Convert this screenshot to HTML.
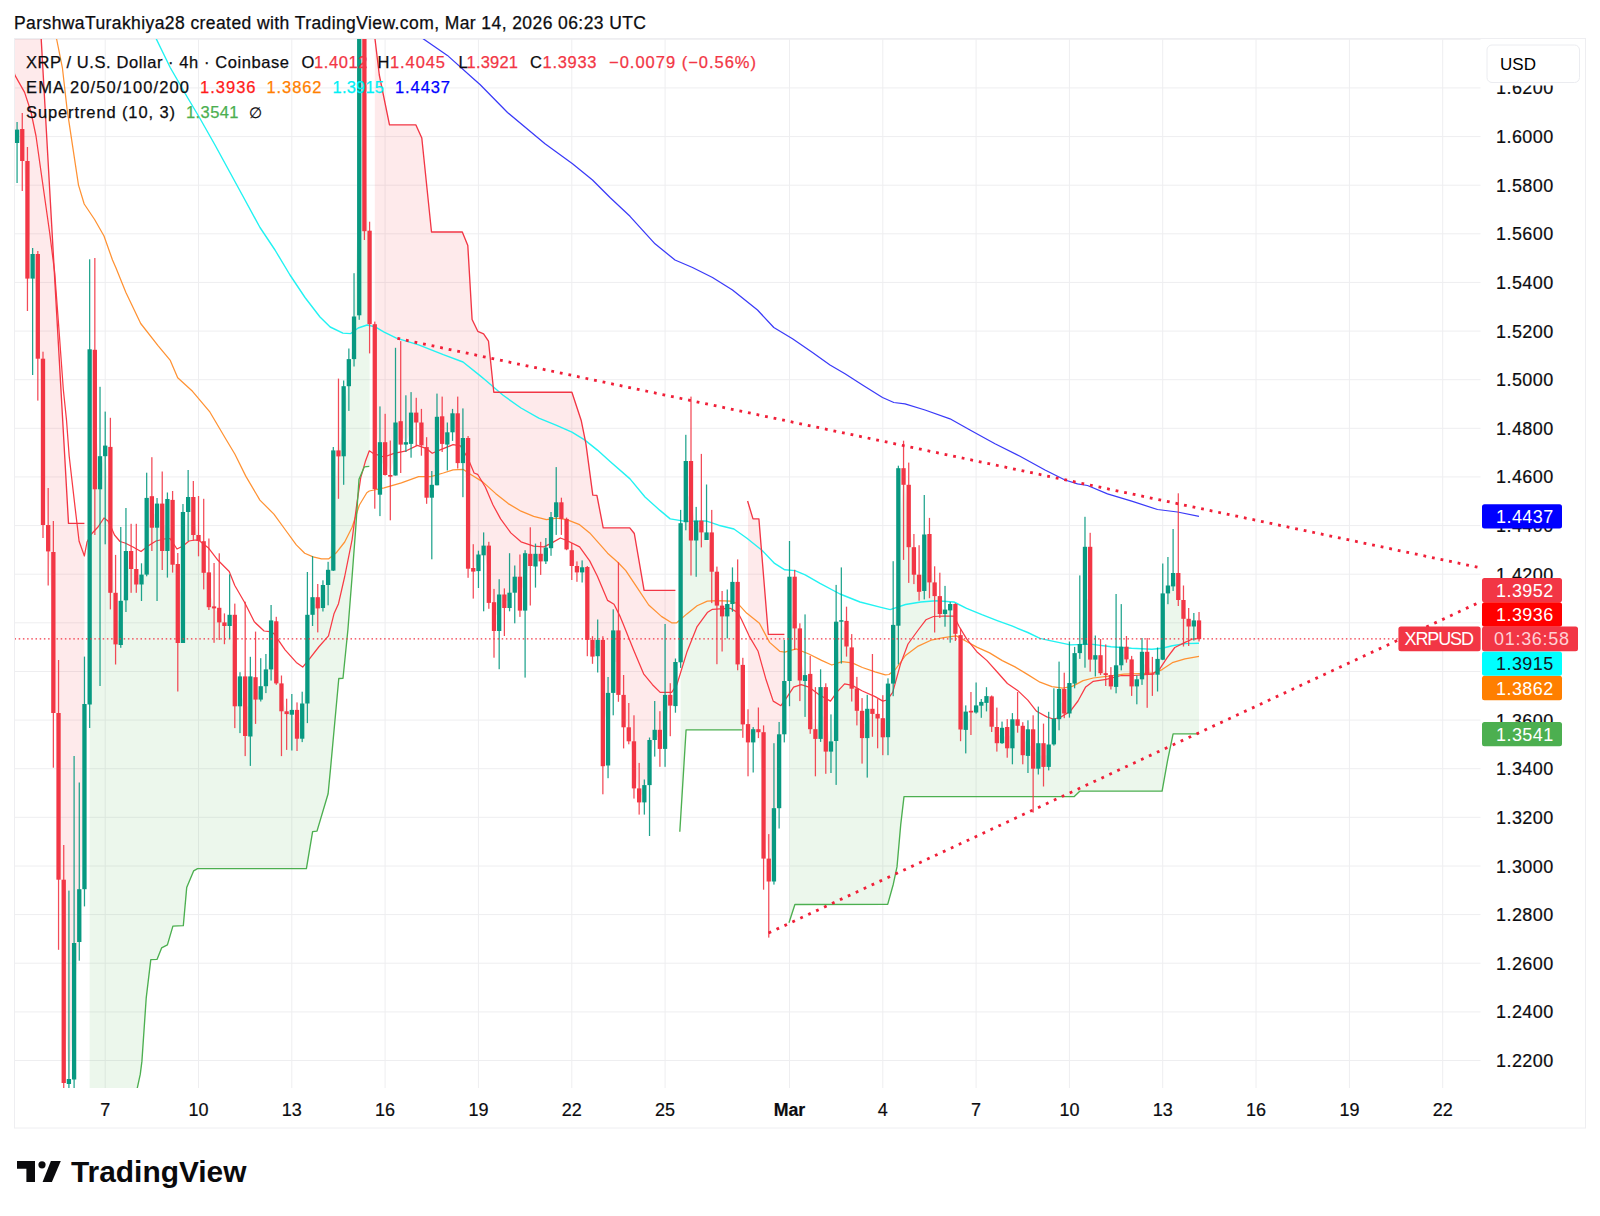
<!DOCTYPE html><html><head><meta charset="utf-8"><title>XRPUSD chart</title>
<style>html,body{margin:0;padding:0;background:#fff}body{width:1600px;height:1216px;overflow:hidden}svg{display:block}text{font-family:"Liberation Sans",sans-serif}</style></head><body>
<svg width="1600" height="1216" viewBox="0 0 1600 1216">
<defs><clipPath id="pane"><rect x="14.5" y="39" width="1466" height="1049"/></clipPath></defs>
<rect width="1600" height="1216" fill="#fff"/>
<g stroke="#eeeef0" stroke-width="1" fill="none">
<line x1="14.5" y1="39.3" x2="1480.5" y2="39.3"/>
<line x1="14.5" y1="87.9" x2="1480.5" y2="87.9"/>
<line x1="14.5" y1="136.6" x2="1480.5" y2="136.6"/>
<line x1="14.5" y1="185.2" x2="1480.5" y2="185.2"/>
<line x1="14.5" y1="233.8" x2="1480.5" y2="233.8"/>
<line x1="14.5" y1="282.4" x2="1480.5" y2="282.4"/>
<line x1="14.5" y1="331.1" x2="1480.5" y2="331.1"/>
<line x1="14.5" y1="379.7" x2="1480.5" y2="379.7"/>
<line x1="14.5" y1="428.3" x2="1480.5" y2="428.3"/>
<line x1="14.5" y1="476.9" x2="1480.5" y2="476.9"/>
<line x1="14.5" y1="525.6" x2="1480.5" y2="525.6"/>
<line x1="14.5" y1="574.2" x2="1480.5" y2="574.2"/>
<line x1="14.5" y1="622.8" x2="1480.5" y2="622.8"/>
<line x1="14.5" y1="671.5" x2="1480.5" y2="671.5"/>
<line x1="14.5" y1="720.1" x2="1480.5" y2="720.1"/>
<line x1="14.5" y1="768.7" x2="1480.5" y2="768.7"/>
<line x1="14.5" y1="817.3" x2="1480.5" y2="817.3"/>
<line x1="14.5" y1="866.0" x2="1480.5" y2="866.0"/>
<line x1="14.5" y1="914.6" x2="1480.5" y2="914.6"/>
<line x1="14.5" y1="963.2" x2="1480.5" y2="963.2"/>
<line x1="14.5" y1="1011.9" x2="1480.5" y2="1011.9"/>
<line x1="14.5" y1="1060.5" x2="1480.5" y2="1060.5"/>
<line x1="105.2" y1="39" x2="105.2" y2="1088"/>
<line x1="198.5" y1="39" x2="198.5" y2="1088"/>
<line x1="291.8" y1="39" x2="291.8" y2="1088"/>
<line x1="385.1" y1="39" x2="385.1" y2="1088"/>
<line x1="478.4" y1="39" x2="478.4" y2="1088"/>
<line x1="571.8" y1="39" x2="571.8" y2="1088"/>
<line x1="665.1" y1="39" x2="665.1" y2="1088"/>
<line x1="789.5" y1="39" x2="789.5" y2="1088"/>
<line x1="882.8" y1="39" x2="882.8" y2="1088"/>
<line x1="976.1" y1="39" x2="976.1" y2="1088"/>
<line x1="1069.4" y1="39" x2="1069.4" y2="1088"/>
<line x1="1162.7" y1="39" x2="1162.7" y2="1088"/>
<line x1="1256.0" y1="39" x2="1256.0" y2="1088"/>
<line x1="1349.4" y1="39" x2="1349.4" y2="1088"/>
<line x1="1442.7" y1="39" x2="1442.7" y2="1088"/>
</g>
<g clip-path="url(#pane)">
<polygon fill="rgba(242,54,69,0.105)" points="17.1,-393.8 41.2,39.0 68.5,523.4 84.4,523.4 84.5,523.4 84.5,796.6 79.3,915.6 74.1,1011.2 68.9,1081.5 63.7,981.4 58.5,796.4 53.4,632.5 48.2,538.2 43.0,441.9 37.8,306.4 32.6,266.3 27.4,219.8 22.3,145.0 17.1,136.3"/>
<polygon fill="rgba(242,54,69,0.105)" points="0.0,-300 0.0,136.3 17.1,136.3 17.1,-300"/>
<polygon fill="rgba(76,175,80,0.105)" points="89.6,1698.2 130.4,1200.0 137.3,1088.0 140.3,1074.2 141.9,1061.4 146.2,998.2 150.8,959.7 157.1,959.3 161.6,947.9 167.4,944.9 172.9,926.1 183.3,925.7 186.7,887.6 193.6,870.9 197.6,868.6 306.4,868.6 312.6,831.6 317.0,831.1 328.1,793.8 330.6,767.9 338.8,678.5 343.0,678.3 347.9,629.8 352.1,576.5 355.8,527.2 359.0,479.2 364.4,466.8 369.3,466.3 369.6,466.3 369.6,277.4 364.4,125.6 359.2,167.7 354.0,337.8 348.8,372.6 343.7,421.2 338.5,453.4 333.3,510.5 328.1,577.4 322.9,596.5 317.7,602.8 312.6,606.0 307.4,659.1 302.2,721.1 297.0,724.3 291.8,712.3 286.6,712.7 281.5,697.3 276.3,652.3 271.1,644.9 265.9,677.8 260.7,692.9 255.5,688.4 250.4,706.5 245.2,706.2 240.0,691.3 234.8,660.5 229.6,620.4 224.4,624.2 219.2,615.1 214.1,607.4 208.9,589.8 203.7,557.0 198.5,538.0 193.3,516.0 188.1,504.5 183.0,577.5 177.8,603.5 172.6,532.3 167.4,525.0 162.2,527.3 157.0,515.7 151.9,512.0 146.7,536.2 141.5,579.5 136.3,576.8 131.1,560.0 125.9,575.6 120.8,622.9 115.6,618.6 110.4,519.8 105.2,450.9 100.0,472.8 94.8,419.6 89.6,526.9"/>
<polygon fill="rgba(242,54,69,0.105)" points="374.8,31.5 375.0,39.0 379.3,75.0 389.5,124.8 415.8,124.8 421.8,138.0 431.5,232.0 462.3,232.0 467.8,245.5 472.1,319.5 477.8,331.3 483.6,333.9 488.5,341.2 493.8,392.2 571.9,392.2 581.3,420.8 585.9,443.7 592.8,495.2 596.9,495.4 603.2,527.8 629.8,527.8 634.3,533.5 644.1,590.4 675.4,590.4 675.4,590.4 675.4,684.0 670.3,700.2 665.1,721.9 659.9,739.3 654.7,734.9 649.5,762.5 644.3,793.8 639.2,795.4 634.0,764.8 628.8,734.3 623.6,711.1 618.4,662.6 613.2,661.6 608.0,729.2 602.9,703.0 597.7,648.0 592.5,648.2 587.3,603.5 582.1,569.8 576.9,569.2 571.8,558.1 566.6,534.1 561.4,510.6 556.2,509.7 551.0,532.7 545.8,554.5 540.7,557.6 535.5,560.1 530.3,559.9 525.1,581.9 519.9,593.7 514.7,584.7 509.6,600.4 504.4,601.2 499.2,612.8 494.0,616.6 488.8,574.2 483.6,550.5 478.4,562.8 473.3,569.8 468.1,503.4 462.9,450.6 457.7,438.2 452.5,422.8 447.3,438.5 442.2,430.1 437.0,451.1 431.8,491.2 426.6,472.4 421.4,433.9 416.2,417.6 411.1,428.2 405.9,443.4 400.7,432.9 395.5,449.0 390.3,475.9 385.1,458.6 380.0,468.4 374.8,406.6"/>
<polygon fill="rgba(76,175,80,0.105)" points="680.6,818.4 686.1,729.8 742.0,729.8 742.8,729.8 742.8,694.6 737.6,623.1 732.5,593.0 727.3,610.2 722.1,611.0 716.9,588.7 711.7,552.0 706.5,536.2 701.4,526.5 696.2,530.5 691.0,500.8 685.8,491.6 680.6,592.8"/>
<polygon fill="rgba(242,54,69,0.105)" points="748.0,502.4 753.0,518.9 758.9,518.9 768.3,634.3 784.3,634.3 784.3,707.6 779.1,771.2 773.9,844.9 768.8,870.0 763.6,795.4 758.4,730.7 753.2,735.8 748.0,733.2"/>
<polygon fill="rgba(76,175,80,0.105)" points="789.5,921.3 794.9,904.5 887.7,904.4 893.3,884.2 897.0,866.9 900.7,824.9 904.0,796.6 1074.3,796.6 1080.0,791.1 1162.1,791.1 1167.7,759.8 1173.1,733.8 1199.0,733.8 1199.0,733.8 1199.0,629.7 1193.8,623.5 1188.7,622.6 1183.5,609.4 1178.3,586.5 1173.1,579.7 1167.9,589.5 1162.7,626.5 1157.6,666.8 1152.4,674.2 1147.2,663.0 1142.0,665.5 1136.8,682.8 1131.6,672.9 1126.4,653.0 1121.3,656.0 1116.1,676.1 1110.9,680.7 1105.7,674.1 1100.5,664.2 1095.3,657.4 1090.2,603.2 1085.0,595.8 1079.8,648.5 1074.6,668.4 1069.4,698.2 1064.2,701.2 1059.1,704.1 1053.9,731.5 1048.7,755.7 1043.5,755.0 1038.3,756.0 1033.1,749.0 1028.0,742.6 1022.8,740.5 1017.6,722.5 1012.4,733.8 1007.2,737.6 1002.0,735.5 996.8,735.1 991.7,711.5 986.5,699.5 981.3,703.8 976.1,709.0 970.9,711.6 965.7,720.8 960.6,682.3 955.4,618.9 950.2,607.2 945.0,611.8 939.8,605.0 934.6,589.2 929.5,558.2 924.3,562.8 919.1,583.2 913.9,561.0 908.7,516.0 903.5,476.5 898.4,547.0 893.2,654.2 888.0,710.4 882.8,727.8 877.6,716.2 872.4,711.3 867.2,723.5 862.1,724.5 856.9,699.6 851.7,668.0 846.5,633.7 841.3,621.0 836.1,681.4 831.0,746.5 825.8,719.4 820.6,713.0 815.4,734.0 810.2,701.5 805.0,678.0 799.9,654.5 794.7,602.5 789.5,628.9"/>
<polyline fill="none" stroke="#3a3af8" stroke-width="1.25" stroke-linejoin="round"  points="415.0,33.0 423.5,39.0 447.4,55.4 472.9,78.3 480.0,84.5 507.5,112.5 545.0,143.8 572.5,163.8 592.5,180.0 610.0,197.5 630.0,216.3 655.0,243.8 675.0,260.0 692.5,267.5 712.5,277.5 732.5,290.0 757.5,310.0 773.8,327.5 792.5,338.8 812.5,352.5 830.0,365.0 845.0,373.8 862.5,385.0 882.5,397.5 893.8,402.5 905.0,403.8 925.0,410.0 950.0,418.8 970.0,430.0 995.0,443.8 1020.0,456.3 1045.0,470.0 1065.0,480.0 1077.5,483.8 1087.5,485.5 1107.5,493.8 1132.5,501.3 1157.5,509.5 1177.5,512.0 1199.0,516.3"/>
<polyline fill="none" stroke="#22f2f2" stroke-width="1.4" stroke-linejoin="round"  points="150.0,25.0 156.3,39.0 170.2,67.5 187.5,97.5 200.0,118.5 215.0,145.0 230.0,172.5 245.0,200.0 260.0,227.5 275.0,250.0 290.0,275.0 305.0,297.5 320.0,317.0 330.2,327.0 342.9,333.1 350.6,333.6 358.2,328.0 367.1,325.0 374.8,326.7 383.7,331.8 396.4,338.2 418.6,344.8 443.3,354.7 463.0,362.0 480.0,375.6 485.3,380.0 503.1,395.3 521.0,408.0 538.8,418.2 556.6,425.4 571.9,432.2 584.6,439.9 597.4,450.1 610.1,461.5 630.0,478.9 645.0,497.0 660.0,510.4 670.2,518.9 685.5,521.4 705.9,520.9 718.6,525.2 733.9,529.0 746.6,538.0 761.9,550.2 774.6,563.4 784.8,569.8 795.0,570.6 805.2,574.9 820.0,583.3 840.0,594.0 860.0,602.0 880.0,607.1 890.2,609.6 905.5,604.5 920.8,602.0 936.1,600.7 953.9,602.0 966.6,608.3 981.9,614.7 997.2,620.6 1012.5,626.2 1027.8,632.5 1040.0,638.4 1050.0,640.6 1070.4,644.9 1090.8,644.1 1111.1,646.7 1131.5,648.2 1151.9,649.2 1162.1,648.2 1172.3,645.7 1185.0,643.6 1199.0,643.2"/>
<polyline fill="none" stroke="#ff9233" stroke-width="1.25" stroke-linejoin="round"  points="14.0,-60.0 56.7,39.5 62.4,67.8 67.1,109.4 72.8,147.3 78.5,185.1 84.2,204.0 94.6,219.5 104.0,236.0 112.5,260.0 116.0,268.0 125.9,292.6 140.7,323.5 158.0,345.6 170.3,360.4 177.7,377.7 192.5,391.3 210.0,412.2 226.4,440.0 234.8,454.0 245.9,476.4 259.9,500.1 273.9,514.1 285.1,529.5 296.3,544.9 304.7,553.3 313.1,556.9 321.5,558.9 328.5,558.9 336.0,553.1 344.7,542.0 352.1,527.2 359.4,505.0 366.8,492.7 369.3,491.0 384.1,487.8 401.4,482.9 418.6,476.7 430.9,476.7 443.3,473.0 453.1,469.8 463.0,469.3 470.4,474.2 482.7,481.9 495.5,493.4 508.2,503.6 521.0,511.2 533.7,516.3 546.4,519.6 556.6,518.1 566.8,519.6 579.6,524.7 589.7,532.9 599.9,544.3 607.6,553.2 617.8,562.2 625.8,570.6 636.0,585.9 648.7,605.0 661.4,616.4 671.6,622.8 676.7,622.8 686.9,613.9 697.1,605.7 707.3,601.1 717.5,600.6 730.2,601.1 737.9,603.7 746.6,613.1 759.4,623.3 769.6,642.4 779.7,651.3 784.8,652.1 796.1,648.9 808.9,654.0 821.6,660.4 831.8,665.0 842.0,661.7 852.2,662.9 862.4,667.5 875.1,671.8 885.3,674.8 889.0,674.5 895.3,669.5 905.5,655.5 918.2,646.1 931.0,640.2 943.7,637.6 956.4,635.9 966.6,641.5 976.8,647.1 989.6,652.9 1002.3,660.6 1015.0,666.9 1027.8,674.6 1040.0,682.2 1051.9,686.6 1062.7,688.2 1072.3,686.4 1083.1,680.6 1093.3,678.0 1108.6,676.2 1123.9,674.2 1139.2,673.7 1154.5,672.9 1162.1,669.6 1172.3,662.7 1185.0,658.9 1199.0,656.4"/>
<polyline fill="none" stroke="#f83a44" stroke-width="1.25" stroke-linejoin="round"  points="14.0,72.0 15.0,75.4 24.6,92.4 31.0,112.0 36.0,136.0 42.2,180.0 49.7,233.0 54.7,272.7 59.0,330.0 63.3,389.2 66.5,420.0 69.2,456.3 75.1,507.6 79.1,541.2 84.4,556.0 87.0,542.0 91.0,534.5 98.0,527.0 104.0,518.0 108.0,521.0 111.0,527.0 114.5,535.0 120.0,541.5 125.0,543.0 133.0,547.0 141.0,551.5 148.0,546.0 156.0,541.0 164.0,539.0 170.0,538.5 177.0,549.0 183.0,546.0 189.0,541.0 195.0,540.0 198.4,540.1 208.2,547.7 218.0,560.3 229.2,571.5 234.8,585.5 244.5,602.2 254.3,621.8 264.1,631.0 269.7,631.6 273.9,633.6 285.1,649.8 296.3,662.4 302.7,667.1 308.9,659.6 318.7,647.0 328.5,635.8 334.1,613.4 338.5,603.7 344.7,576.5 352.1,539.6 357.0,502.6 360.7,477.9 365.6,460.7 369.3,450.8 373.0,453.3 384.1,457.0 394.0,453.3 406.3,450.8 417.4,445.4 426.0,448.3 432.2,453.3 440.8,449.6 453.1,444.6 460.5,445.9 467.9,458.2 474.1,473.0 477.6,474.3 485.3,487.0 492.9,504.8 500.6,518.9 510.8,532.9 521.0,541.8 533.7,546.1 543.9,546.9 551.5,543.1 560.4,538.0 566.8,540.5 579.6,546.9 589.7,560.9 597.4,576.2 607.6,600.4 614.0,604.2 620.3,616.9 623.2,624.1 633.4,649.6 643.6,673.8 652.5,684.7 660.2,692.4 671.6,692.4 676.7,685.2 686.9,652.1 697.1,626.6 707.3,612.6 712.4,609.3 720.0,608.8 730.2,608.3 737.9,612.6 741.5,619.5 749.2,636.1 758.1,651.3 765.6,678.2 773.2,701.1 780.9,705.7 786.0,698.6 793.6,687.1 801.2,684.6 808.9,687.1 819.1,694.8 830.5,701.1 836.9,692.2 844.6,683.8 852.2,685.4 862.4,691.0 875.1,696.6 882.8,701.1 887.0,700.0 892.7,692.4 900.4,664.4 908.0,644.0 918.2,630.0 925.9,619.8 933.5,616.5 943.7,616.0 953.9,616.0 959.0,626.2 966.6,638.9 976.8,651.7 987.0,660.6 997.2,672.0 1007.4,683.5 1017.6,690.4 1027.8,700.1 1036.6,711.3 1046.8,716.9 1053.2,719.0 1060.2,717.5 1070.4,711.1 1078.0,701.0 1085.7,686.9 1093.3,681.3 1106.1,679.3 1121.3,675.5 1134.1,675.5 1151.9,674.2 1159.6,669.1 1167.2,657.6 1174.8,647.5 1185.0,642.4 1192.7,639.0 1199.0,638.6"/>
<polyline fill="none" stroke="#f23645" stroke-width="1.35" stroke-linejoin="round"  points="14.0,-440.0 41.2,39.0 68.5,523.4 84.4,523.4"/>
<polyline fill="none" stroke="#f23645" stroke-width="1.35" stroke-linejoin="round"  points="374.1,10.0 375.0,39.0 379.3,75.0 389.5,124.8 415.8,124.8 421.8,138.0 431.5,232.0 462.3,232.0 467.8,245.5 472.1,319.5 477.8,331.3 483.6,333.9 488.5,341.2 493.8,392.2 571.9,392.2 581.3,420.8 585.9,443.7 592.8,495.2 596.9,495.4 603.2,527.8 629.8,527.8 634.3,533.5 644.1,590.4 675.4,590.4"/>
<polyline fill="none" stroke="#f23645" stroke-width="1.35" stroke-linejoin="round"  points="747.6,501.0 753.0,518.9 758.9,518.9 768.3,634.3 784.4,634.3"/>
<polyline fill="none" stroke="#4caf50" stroke-width="1.35" stroke-linejoin="round"  points="89.5,1700.0 130.4,1200.0 137.3,1088.0 140.3,1074.2 141.9,1061.4 146.2,998.2 150.8,959.7 157.1,959.3 161.6,947.9 167.4,944.9 172.9,926.1 183.3,925.7 186.7,887.6 193.6,870.9 197.6,868.6 306.4,868.6 312.6,831.6 317.0,831.1 328.1,793.8 330.6,767.9 338.8,678.5 343.0,678.3 347.9,629.8 352.1,576.5 355.8,527.2 359.0,479.2 364.4,466.8 369.3,466.3"/>
<polyline fill="none" stroke="#4caf50" stroke-width="1.35" stroke-linejoin="round"  points="679.8,831.7 686.1,729.8 742.0,729.8"/>
<polyline fill="none" stroke="#4caf50" stroke-width="1.35" stroke-linejoin="round"  points="789.0,922.8 794.9,904.5 887.7,904.4 893.3,884.2 897.0,866.9 900.7,824.9 904.0,796.6 1074.3,796.6 1080.0,791.1 1162.1,791.1 1167.7,759.8 1173.1,733.8 1199.0,733.8"/>
<g shape-rendering="auto">
<rect x="16.45" y="122.0" width="1.25" height="61.0" fill="#089981" opacity="0.9"/>
<rect x="14.92" y="129.6" width="4.3" height="13.4" fill="#089981"/>
<rect x="21.64" y="113.0" width="1.25" height="78.0" fill="#f23645" opacity="0.9"/>
<rect x="20.11" y="129.0" width="4.3" height="32.0" fill="#f23645"/>
<rect x="26.82" y="147.0" width="1.25" height="164.0" fill="#f23645" opacity="0.9"/>
<rect x="25.29" y="161.0" width="4.3" height="117.6" fill="#f23645"/>
<rect x="32.00" y="248.0" width="1.25" height="127.0" fill="#089981" opacity="0.9"/>
<rect x="30.47" y="254.0" width="4.3" height="24.6" fill="#089981"/>
<rect x="37.19" y="251.0" width="1.25" height="149.6" fill="#f23645" opacity="0.9"/>
<rect x="35.66" y="254.0" width="4.3" height="104.7" fill="#f23645"/>
<rect x="42.37" y="351.7" width="1.25" height="186.3" fill="#f23645" opacity="0.9"/>
<rect x="40.84" y="358.7" width="4.3" height="166.3" fill="#f23645"/>
<rect x="47.56" y="488.0" width="1.25" height="97.5" fill="#f23645" opacity="0.9"/>
<rect x="46.03" y="525.0" width="4.3" height="26.4" fill="#f23645"/>
<rect x="52.74" y="521.0" width="1.25" height="246.7" fill="#f23645" opacity="0.9"/>
<rect x="51.21" y="552.0" width="4.3" height="161.0" fill="#f23645"/>
<rect x="57.92" y="660.0" width="1.25" height="289.8" fill="#f23645" opacity="0.9"/>
<rect x="56.39" y="713.0" width="4.3" height="166.7" fill="#f23645"/>
<rect x="63.11" y="845.0" width="1.25" height="250.0" fill="#f23645" opacity="0.9"/>
<rect x="61.58" y="879.7" width="4.3" height="203.3" fill="#f23645"/>
<rect x="68.29" y="890.6" width="1.25" height="204.4" fill="#089981" opacity="0.9"/>
<rect x="66.76" y="1079.0" width="4.3" height="5.0" fill="#089981"/>
<rect x="73.48" y="756.0" width="1.25" height="339.0" fill="#089981" opacity="0.9"/>
<rect x="71.95" y="943.0" width="4.3" height="136.5" fill="#089981"/>
<rect x="78.66" y="782.5" width="1.25" height="178.2" fill="#089981" opacity="0.9"/>
<rect x="77.13" y="889.2" width="4.3" height="52.8" fill="#089981"/>
<rect x="83.84" y="656.6" width="1.25" height="249.8" fill="#089981" opacity="0.9"/>
<rect x="82.31" y="704.0" width="4.3" height="185.2" fill="#089981"/>
<rect x="89.03" y="259.3" width="1.25" height="468.7" fill="#089981" opacity="0.9"/>
<rect x="87.50" y="349.3" width="4.3" height="355.2" fill="#089981"/>
<rect x="94.21" y="258.0" width="1.25" height="277.0" fill="#f23645" opacity="0.9"/>
<rect x="92.68" y="349.8" width="4.3" height="139.5" fill="#f23645"/>
<rect x="99.40" y="386.8" width="1.25" height="299.2" fill="#089981" opacity="0.9"/>
<rect x="97.87" y="456.2" width="4.3" height="33.1" fill="#089981"/>
<rect x="104.58" y="411.6" width="1.25" height="132.7" fill="#089981" opacity="0.9"/>
<rect x="103.05" y="445.6" width="4.3" height="10.6" fill="#089981"/>
<rect x="109.76" y="417.8" width="1.25" height="191.6" fill="#f23645" opacity="0.9"/>
<rect x="108.23" y="446.9" width="4.3" height="145.9" fill="#f23645"/>
<rect x="114.95" y="554.9" width="1.25" height="109.6" fill="#f23645" opacity="0.9"/>
<rect x="113.42" y="592.8" width="4.3" height="51.6" fill="#f23645"/>
<rect x="120.13" y="527.0" width="1.25" height="120.8" fill="#089981" opacity="0.9"/>
<rect x="118.60" y="600.8" width="4.3" height="44.2" fill="#089981"/>
<rect x="125.32" y="508.0" width="1.25" height="104.0" fill="#089981" opacity="0.9"/>
<rect x="123.79" y="551.0" width="4.3" height="49.3" fill="#089981"/>
<rect x="130.50" y="523.8" width="1.25" height="69.0" fill="#f23645" opacity="0.9"/>
<rect x="128.97" y="551.0" width="4.3" height="18.0" fill="#f23645"/>
<rect x="135.68" y="523.8" width="1.25" height="69.0" fill="#f23645" opacity="0.9"/>
<rect x="134.15" y="569.0" width="4.3" height="15.5" fill="#f23645"/>
<rect x="140.87" y="563.3" width="1.25" height="37.7" fill="#089981" opacity="0.9"/>
<rect x="139.34" y="574.6" width="4.3" height="9.9" fill="#089981"/>
<rect x="146.05" y="472.7" width="1.25" height="103.6" fill="#089981" opacity="0.9"/>
<rect x="144.52" y="497.9" width="4.3" height="76.7" fill="#089981"/>
<rect x="151.24" y="457.2" width="1.25" height="93.8" fill="#f23645" opacity="0.9"/>
<rect x="149.71" y="496.2" width="4.3" height="31.5" fill="#f23645"/>
<rect x="156.42" y="498.0" width="1.25" height="103.0" fill="#089981" opacity="0.9"/>
<rect x="154.89" y="503.6" width="4.3" height="24.1" fill="#089981"/>
<rect x="161.60" y="471.5" width="1.25" height="98.5" fill="#f23645" opacity="0.9"/>
<rect x="160.07" y="503.6" width="4.3" height="47.4" fill="#f23645"/>
<rect x="166.79" y="492.5" width="1.25" height="85.1" fill="#089981" opacity="0.9"/>
<rect x="165.26" y="499.0" width="4.3" height="52.0" fill="#089981"/>
<rect x="171.97" y="491.0" width="1.25" height="81.6" fill="#f23645" opacity="0.9"/>
<rect x="170.44" y="499.9" width="4.3" height="64.8" fill="#f23645"/>
<rect x="177.16" y="553.0" width="1.25" height="138.5" fill="#f23645" opacity="0.9"/>
<rect x="175.63" y="564.0" width="4.3" height="79.0" fill="#f23645"/>
<rect x="182.34" y="504.0" width="1.25" height="139.0" fill="#089981" opacity="0.9"/>
<rect x="180.81" y="512.0" width="4.3" height="131.0" fill="#089981"/>
<rect x="187.52" y="470.0" width="1.25" height="71.0" fill="#089981" opacity="0.9"/>
<rect x="185.99" y="497.0" width="4.3" height="15.0" fill="#089981"/>
<rect x="192.71" y="481.0" width="1.25" height="59.6" fill="#f23645" opacity="0.9"/>
<rect x="191.18" y="497.0" width="4.3" height="38.0" fill="#f23645"/>
<rect x="197.89" y="496.0" width="1.25" height="60.3" fill="#f23645" opacity="0.9"/>
<rect x="196.36" y="535.0" width="4.3" height="6.0" fill="#f23645"/>
<rect x="203.08" y="498.8" width="1.25" height="90.6" fill="#f23645" opacity="0.9"/>
<rect x="201.55" y="541.2" width="4.3" height="31.6" fill="#f23645"/>
<rect x="208.26" y="538.5" width="1.25" height="71.5" fill="#f23645" opacity="0.9"/>
<rect x="206.73" y="572.4" width="4.3" height="34.8" fill="#f23645"/>
<rect x="213.44" y="563.0" width="1.25" height="79.8" fill="#f23645" opacity="0.9"/>
<rect x="211.91" y="606.4" width="4.3" height="2.0" fill="#f23645"/>
<rect x="218.63" y="553.3" width="1.25" height="86.7" fill="#f23645" opacity="0.9"/>
<rect x="217.10" y="607.8" width="4.3" height="14.6" fill="#f23645"/>
<rect x="223.81" y="613.4" width="1.25" height="30.8" fill="#f23645" opacity="0.9"/>
<rect x="222.28" y="622.4" width="4.3" height="3.6" fill="#f23645"/>
<rect x="229.00" y="574.3" width="1.25" height="64.9" fill="#089981" opacity="0.9"/>
<rect x="227.47" y="614.8" width="4.3" height="11.2" fill="#089981"/>
<rect x="234.18" y="603.6" width="1.25" height="124.5" fill="#f23645" opacity="0.9"/>
<rect x="232.65" y="614.8" width="4.3" height="91.5" fill="#f23645"/>
<rect x="239.36" y="672.2" width="1.25" height="60.9" fill="#089981" opacity="0.9"/>
<rect x="237.83" y="676.4" width="4.3" height="29.9" fill="#089981"/>
<rect x="244.55" y="601.7" width="1.25" height="154.4" fill="#f23645" opacity="0.9"/>
<rect x="243.02" y="676.4" width="4.3" height="59.6" fill="#f23645"/>
<rect x="249.73" y="656.8" width="1.25" height="109.1" fill="#089981" opacity="0.9"/>
<rect x="248.20" y="676.4" width="4.3" height="60.1" fill="#089981"/>
<rect x="254.92" y="631.6" width="1.25" height="92.3" fill="#f23645" opacity="0.9"/>
<rect x="253.39" y="677.2" width="4.3" height="22.4" fill="#f23645"/>
<rect x="260.10" y="658.2" width="1.25" height="43.3" fill="#089981" opacity="0.9"/>
<rect x="258.57" y="686.2" width="4.3" height="13.4" fill="#089981"/>
<rect x="265.28" y="654.0" width="1.25" height="39.1" fill="#089981" opacity="0.9"/>
<rect x="263.75" y="669.4" width="4.3" height="16.8" fill="#089981"/>
<rect x="270.47" y="605.0" width="1.25" height="75.6" fill="#089981" opacity="0.9"/>
<rect x="268.94" y="620.4" width="4.3" height="49.0" fill="#089981"/>
<rect x="275.65" y="616.8" width="1.25" height="68.0" fill="#f23645" opacity="0.9"/>
<rect x="274.12" y="621.3" width="4.3" height="62.1" fill="#f23645"/>
<rect x="280.84" y="675.5" width="1.25" height="80.6" fill="#f23645" opacity="0.9"/>
<rect x="279.31" y="683.4" width="4.3" height="27.9" fill="#f23645"/>
<rect x="286.02" y="698.7" width="1.25" height="51.2" fill="#f23645" opacity="0.9"/>
<rect x="284.49" y="711.3" width="4.3" height="2.8" fill="#f23645"/>
<rect x="291.20" y="694.0" width="1.25" height="56.5" fill="#089981" opacity="0.9"/>
<rect x="289.67" y="709.9" width="4.3" height="4.8" fill="#089981"/>
<rect x="296.39" y="702.4" width="1.25" height="48.6" fill="#f23645" opacity="0.9"/>
<rect x="294.86" y="709.9" width="4.3" height="28.8" fill="#f23645"/>
<rect x="301.57" y="691.7" width="1.25" height="50.4" fill="#089981" opacity="0.9"/>
<rect x="300.04" y="703.5" width="4.3" height="35.2" fill="#089981"/>
<rect x="306.76" y="572.0" width="1.25" height="151.1" fill="#089981" opacity="0.9"/>
<rect x="305.23" y="614.8" width="4.3" height="88.7" fill="#089981"/>
<rect x="311.94" y="556.1" width="1.25" height="69.9" fill="#089981" opacity="0.9"/>
<rect x="310.41" y="597.2" width="4.3" height="17.6" fill="#089981"/>
<rect x="317.12" y="584.0" width="1.25" height="48.4" fill="#f23645" opacity="0.9"/>
<rect x="315.59" y="597.2" width="4.3" height="11.2" fill="#f23645"/>
<rect x="322.31" y="580.3" width="1.25" height="31.2" fill="#089981" opacity="0.9"/>
<rect x="320.78" y="585.0" width="4.3" height="23.0" fill="#089981"/>
<rect x="327.49" y="561.8" width="1.25" height="43.5" fill="#089981" opacity="0.9"/>
<rect x="325.96" y="569.8" width="4.3" height="15.2" fill="#089981"/>
<rect x="332.68" y="447.0" width="1.25" height="124.0" fill="#089981" opacity="0.9"/>
<rect x="331.15" y="450.4" width="4.3" height="120.2" fill="#089981"/>
<rect x="337.86" y="378.6" width="1.25" height="120.2" fill="#f23645" opacity="0.9"/>
<rect x="336.33" y="450.4" width="4.3" height="6.0" fill="#f23645"/>
<rect x="343.04" y="380.5" width="1.25" height="104.3" fill="#089981" opacity="0.9"/>
<rect x="341.51" y="386.2" width="4.3" height="70.1" fill="#089981"/>
<rect x="348.23" y="348.5" width="1.25" height="62.4" fill="#089981" opacity="0.9"/>
<rect x="346.70" y="359.1" width="4.3" height="27.1" fill="#089981"/>
<rect x="353.41" y="273.2" width="1.25" height="93.3" fill="#089981" opacity="0.9"/>
<rect x="351.88" y="316.5" width="4.3" height="42.6" fill="#089981"/>
<rect x="358.60" y="20.0" width="1.25" height="299.8" fill="#089981" opacity="0.9"/>
<rect x="357.07" y="20.0" width="4.3" height="295.3" fill="#089981"/>
<rect x="363.78" y="20.0" width="1.25" height="220.0" fill="#f23645" opacity="0.9"/>
<rect x="362.25" y="20.0" width="4.3" height="211.2" fill="#f23645"/>
<rect x="368.96" y="221.7" width="1.25" height="131.7" fill="#f23645" opacity="0.9"/>
<rect x="367.43" y="230.7" width="4.3" height="93.5" fill="#f23645"/>
<rect x="374.15" y="321.6" width="1.25" height="187.1" fill="#f23645" opacity="0.9"/>
<rect x="372.62" y="324.2" width="4.3" height="164.8" fill="#f23645"/>
<rect x="379.33" y="406.4" width="1.25" height="109.7" fill="#089981" opacity="0.9"/>
<rect x="377.80" y="442.2" width="4.3" height="52.5" fill="#089981"/>
<rect x="384.52" y="413.8" width="1.25" height="61.7" fill="#f23645" opacity="0.9"/>
<rect x="382.99" y="442.2" width="4.3" height="32.8" fill="#f23645"/>
<rect x="389.70" y="440.5" width="1.25" height="79.8" fill="#f23645" opacity="0.9"/>
<rect x="388.17" y="475.0" width="4.3" height="1.7" fill="#f23645"/>
<rect x="394.88" y="347.8" width="1.25" height="127.7" fill="#089981" opacity="0.9"/>
<rect x="393.35" y="422.5" width="4.3" height="53.0" fill="#089981"/>
<rect x="400.07" y="341.1" width="1.25" height="131.9" fill="#f23645" opacity="0.9"/>
<rect x="398.54" y="421.2" width="4.3" height="23.4" fill="#f23645"/>
<rect x="405.25" y="395.3" width="1.25" height="56.7" fill="#089981" opacity="0.9"/>
<rect x="403.72" y="442.2" width="4.3" height="2.4" fill="#089981"/>
<rect x="410.44" y="392.1" width="1.25" height="65.6" fill="#089981" opacity="0.9"/>
<rect x="408.91" y="412.6" width="4.3" height="31.3" fill="#089981"/>
<rect x="415.62" y="397.8" width="1.25" height="48.1" fill="#f23645" opacity="0.9"/>
<rect x="414.09" y="412.6" width="4.3" height="9.9" fill="#f23645"/>
<rect x="420.80" y="408.9" width="1.25" height="46.8" fill="#f23645" opacity="0.9"/>
<rect x="419.27" y="422.5" width="4.3" height="22.9" fill="#f23645"/>
<rect x="425.99" y="437.2" width="1.25" height="66.6" fill="#f23645" opacity="0.9"/>
<rect x="424.46" y="447.1" width="4.3" height="50.6" fill="#f23645"/>
<rect x="431.17" y="471.0" width="1.25" height="88.3" fill="#089981" opacity="0.9"/>
<rect x="429.64" y="484.8" width="4.3" height="12.9" fill="#089981"/>
<rect x="436.36" y="393.6" width="1.25" height="91.7" fill="#089981" opacity="0.9"/>
<rect x="434.83" y="416.8" width="4.3" height="68.5" fill="#089981"/>
<rect x="441.54" y="396.6" width="1.25" height="55.4" fill="#f23645" opacity="0.9"/>
<rect x="440.01" y="416.3" width="4.3" height="27.6" fill="#f23645"/>
<rect x="446.72" y="422.5" width="1.25" height="48.0" fill="#089981" opacity="0.9"/>
<rect x="445.19" y="432.3" width="4.3" height="12.3" fill="#089981"/>
<rect x="451.91" y="408.9" width="1.25" height="32.0" fill="#089981" opacity="0.9"/>
<rect x="450.38" y="413.3" width="4.3" height="19.0" fill="#089981"/>
<rect x="457.09" y="396.6" width="1.25" height="72.0" fill="#f23645" opacity="0.9"/>
<rect x="455.56" y="413.3" width="4.3" height="49.8" fill="#f23645"/>
<rect x="462.28" y="408.4" width="1.25" height="88.8" fill="#089981" opacity="0.9"/>
<rect x="460.75" y="438.0" width="4.3" height="25.1" fill="#089981"/>
<rect x="467.46" y="436.0" width="1.25" height="141.8" fill="#f23645" opacity="0.9"/>
<rect x="465.93" y="438.0" width="4.3" height="130.7" fill="#f23645"/>
<rect x="472.64" y="544.2" width="1.25" height="54.4" fill="#f23645" opacity="0.9"/>
<rect x="471.11" y="568.0" width="4.3" height="3.6" fill="#f23645"/>
<rect x="477.83" y="550.7" width="1.25" height="37.3" fill="#089981" opacity="0.9"/>
<rect x="476.30" y="554.5" width="4.3" height="16.6" fill="#089981"/>
<rect x="483.01" y="532.4" width="1.25" height="78.9" fill="#089981" opacity="0.9"/>
<rect x="481.48" y="545.6" width="4.3" height="9.7" fill="#089981"/>
<rect x="488.20" y="541.8" width="1.25" height="67.0" fill="#f23645" opacity="0.9"/>
<rect x="486.67" y="545.6" width="4.3" height="57.3" fill="#f23645"/>
<rect x="493.38" y="588.9" width="1.25" height="68.8" fill="#f23645" opacity="0.9"/>
<rect x="491.85" y="602.2" width="4.3" height="28.8" fill="#f23645"/>
<rect x="498.56" y="579.2" width="1.25" height="90.0" fill="#089981" opacity="0.9"/>
<rect x="497.03" y="594.5" width="4.3" height="36.5" fill="#089981"/>
<rect x="503.75" y="588.4" width="1.25" height="47.6" fill="#f23645" opacity="0.9"/>
<rect x="502.22" y="594.5" width="4.3" height="13.5" fill="#f23645"/>
<rect x="508.93" y="553.2" width="1.25" height="58.1" fill="#089981" opacity="0.9"/>
<rect x="507.40" y="592.7" width="4.3" height="15.3" fill="#089981"/>
<rect x="514.12" y="565.5" width="1.25" height="57.8" fill="#089981" opacity="0.9"/>
<rect x="512.59" y="576.7" width="4.3" height="16.0" fill="#089981"/>
<rect x="519.30" y="554.5" width="1.25" height="62.4" fill="#f23645" opacity="0.9"/>
<rect x="517.77" y="576.7" width="4.3" height="33.9" fill="#f23645"/>
<rect x="524.48" y="550.2" width="1.25" height="127.4" fill="#089981" opacity="0.9"/>
<rect x="522.95" y="553.2" width="4.3" height="57.4" fill="#089981"/>
<rect x="529.67" y="527.3" width="1.25" height="78.2" fill="#f23645" opacity="0.9"/>
<rect x="528.14" y="553.8" width="4.3" height="12.2" fill="#f23645"/>
<rect x="534.85" y="543.6" width="1.25" height="44.0" fill="#089981" opacity="0.9"/>
<rect x="533.32" y="553.8" width="4.3" height="12.7" fill="#089981"/>
<rect x="540.04" y="541.8" width="1.25" height="33.1" fill="#f23645" opacity="0.9"/>
<rect x="538.51" y="553.8" width="4.3" height="7.6" fill="#f23645"/>
<rect x="545.22" y="538.0" width="1.25" height="26.0" fill="#089981" opacity="0.9"/>
<rect x="543.69" y="547.6" width="4.3" height="13.8" fill="#089981"/>
<rect x="550.40" y="512.0" width="1.25" height="43.8" fill="#089981" opacity="0.9"/>
<rect x="548.87" y="517.1" width="4.3" height="31.1" fill="#089981"/>
<rect x="555.59" y="467.1" width="1.25" height="67.8" fill="#089981" opacity="0.9"/>
<rect x="554.06" y="502.3" width="4.3" height="14.8" fill="#089981"/>
<rect x="560.77" y="497.7" width="1.25" height="37.2" fill="#f23645" opacity="0.9"/>
<rect x="559.24" y="502.3" width="4.3" height="16.6" fill="#f23645"/>
<rect x="565.96" y="517.6" width="1.25" height="32.6" fill="#f23645" opacity="0.9"/>
<rect x="564.43" y="518.9" width="4.3" height="30.5" fill="#f23645"/>
<rect x="571.14" y="543.0" width="1.25" height="37.0" fill="#f23645" opacity="0.9"/>
<rect x="569.61" y="550.2" width="4.3" height="15.8" fill="#f23645"/>
<rect x="576.32" y="561.4" width="1.25" height="20.4" fill="#f23645" opacity="0.9"/>
<rect x="574.79" y="566.0" width="4.3" height="6.4" fill="#f23645"/>
<rect x="581.51" y="560.4" width="1.25" height="22.1" fill="#089981" opacity="0.9"/>
<rect x="579.98" y="567.3" width="4.3" height="5.1" fill="#089981"/>
<rect x="586.69" y="566.0" width="1.25" height="90.2" fill="#f23645" opacity="0.9"/>
<rect x="585.16" y="567.0" width="4.3" height="72.9" fill="#f23645"/>
<rect x="591.88" y="636.2" width="1.25" height="27.6" fill="#f23645" opacity="0.9"/>
<rect x="590.35" y="639.9" width="4.3" height="16.7" fill="#f23645"/>
<rect x="597.06" y="619.5" width="1.25" height="53.0" fill="#089981" opacity="0.9"/>
<rect x="595.53" y="639.9" width="4.3" height="16.3" fill="#089981"/>
<rect x="602.24" y="636.2" width="1.25" height="158.1" fill="#f23645" opacity="0.9"/>
<rect x="600.71" y="639.9" width="4.3" height="126.3" fill="#f23645"/>
<rect x="607.43" y="677.0" width="1.25" height="101.2" fill="#089981" opacity="0.9"/>
<rect x="605.90" y="692.9" width="4.3" height="72.6" fill="#089981"/>
<rect x="612.61" y="609.3" width="1.25" height="106.0" fill="#089981" opacity="0.9"/>
<rect x="611.08" y="630.4" width="4.3" height="62.5" fill="#089981"/>
<rect x="617.80" y="562.3" width="1.25" height="139.5" fill="#f23645" opacity="0.9"/>
<rect x="616.27" y="630.4" width="4.3" height="64.5" fill="#f23645"/>
<rect x="622.98" y="675.0" width="1.25" height="73.4" fill="#f23645" opacity="0.9"/>
<rect x="621.45" y="694.9" width="4.3" height="32.4" fill="#f23645"/>
<rect x="628.16" y="703.0" width="1.25" height="41.3" fill="#f23645" opacity="0.9"/>
<rect x="626.63" y="727.3" width="4.3" height="14.0" fill="#f23645"/>
<rect x="633.35" y="715.3" width="1.25" height="83.3" fill="#f23645" opacity="0.9"/>
<rect x="631.82" y="741.3" width="4.3" height="47.1" fill="#f23645"/>
<rect x="638.53" y="762.9" width="1.25" height="51.7" fill="#f23645" opacity="0.9"/>
<rect x="637.00" y="788.4" width="4.3" height="14.0" fill="#f23645"/>
<rect x="643.72" y="779.5" width="1.25" height="35.1" fill="#089981" opacity="0.9"/>
<rect x="642.19" y="785.1" width="4.3" height="17.3" fill="#089981"/>
<rect x="648.90" y="737.5" width="1.25" height="98.5" fill="#089981" opacity="0.9"/>
<rect x="647.37" y="740.0" width="4.3" height="45.1" fill="#089981"/>
<rect x="654.08" y="701.0" width="1.25" height="55.6" fill="#089981" opacity="0.9"/>
<rect x="652.55" y="729.8" width="4.3" height="10.2" fill="#089981"/>
<rect x="659.27" y="711.2" width="1.25" height="55.6" fill="#f23645" opacity="0.9"/>
<rect x="657.74" y="729.8" width="4.3" height="19.1" fill="#f23645"/>
<rect x="664.45" y="624.0" width="1.25" height="142.8" fill="#089981" opacity="0.9"/>
<rect x="662.92" y="694.9" width="4.3" height="54.0" fill="#089981"/>
<rect x="669.64" y="683.2" width="1.25" height="53.0" fill="#f23645" opacity="0.9"/>
<rect x="668.11" y="694.9" width="4.3" height="10.7" fill="#f23645"/>
<rect x="674.82" y="658.5" width="1.25" height="54.2" fill="#089981" opacity="0.9"/>
<rect x="673.29" y="662.0" width="4.3" height="44.1" fill="#089981"/>
<rect x="680.00" y="509.9" width="1.25" height="158.0" fill="#089981" opacity="0.9"/>
<rect x="678.47" y="523.2" width="4.3" height="139.1" fill="#089981"/>
<rect x="685.19" y="434.8" width="1.25" height="95.5" fill="#089981" opacity="0.9"/>
<rect x="683.66" y="461.0" width="4.3" height="61.2" fill="#089981"/>
<rect x="690.37" y="396.6" width="1.25" height="178.9" fill="#f23645" opacity="0.9"/>
<rect x="688.84" y="461.0" width="4.3" height="79.5" fill="#f23645"/>
<rect x="695.56" y="506.9" width="1.25" height="69.9" fill="#089981" opacity="0.9"/>
<rect x="694.03" y="520.6" width="4.3" height="19.9" fill="#089981"/>
<rect x="700.74" y="453.9" width="1.25" height="93.5" fill="#f23645" opacity="0.9"/>
<rect x="699.21" y="520.6" width="4.3" height="11.8" fill="#f23645"/>
<rect x="705.92" y="484.5" width="1.25" height="55.5" fill="#089981" opacity="0.9"/>
<rect x="704.39" y="532.4" width="4.3" height="7.6" fill="#089981"/>
<rect x="711.11" y="509.9" width="1.25" height="93.2" fill="#f23645" opacity="0.9"/>
<rect x="709.58" y="532.4" width="4.3" height="39.3" fill="#f23645"/>
<rect x="716.29" y="566.6" width="1.25" height="97.6" fill="#f23645" opacity="0.9"/>
<rect x="714.76" y="571.7" width="4.3" height="33.9" fill="#f23645"/>
<rect x="721.48" y="591.0" width="1.25" height="60.5" fill="#f23645" opacity="0.9"/>
<rect x="719.95" y="605.6" width="4.3" height="10.8" fill="#f23645"/>
<rect x="726.66" y="589.5" width="1.25" height="48.9" fill="#089981" opacity="0.9"/>
<rect x="725.13" y="604.0" width="4.3" height="12.4" fill="#089981"/>
<rect x="731.84" y="567.4" width="1.25" height="44.4" fill="#089981" opacity="0.9"/>
<rect x="730.31" y="581.9" width="4.3" height="22.1" fill="#089981"/>
<rect x="737.03" y="559.4" width="1.25" height="110.9" fill="#f23645" opacity="0.9"/>
<rect x="735.50" y="581.9" width="4.3" height="82.5" fill="#f23645"/>
<rect x="742.21" y="657.8" width="1.25" height="80.0" fill="#f23645" opacity="0.9"/>
<rect x="740.68" y="664.9" width="4.3" height="59.5" fill="#f23645"/>
<rect x="747.40" y="709.3" width="1.25" height="67.0" fill="#f23645" opacity="0.9"/>
<rect x="745.87" y="724.1" width="4.3" height="18.3" fill="#f23645"/>
<rect x="752.58" y="727.1" width="1.25" height="45.4" fill="#089981" opacity="0.9"/>
<rect x="751.05" y="729.2" width="4.3" height="13.2" fill="#089981"/>
<rect x="757.76" y="707.5" width="1.25" height="30.6" fill="#f23645" opacity="0.9"/>
<rect x="756.23" y="729.2" width="4.3" height="3.0" fill="#f23645"/>
<rect x="762.95" y="725.4" width="1.25" height="164.3" fill="#f23645" opacity="0.9"/>
<rect x="761.42" y="732.2" width="4.3" height="126.4" fill="#f23645"/>
<rect x="768.13" y="834.1" width="1.25" height="103.5" fill="#f23645" opacity="0.9"/>
<rect x="766.60" y="858.6" width="4.3" height="22.9" fill="#f23645"/>
<rect x="773.32" y="743.2" width="1.25" height="141.4" fill="#089981" opacity="0.9"/>
<rect x="771.79" y="808.2" width="4.3" height="73.3" fill="#089981"/>
<rect x="778.50" y="722.0" width="1.25" height="106.5" fill="#089981" opacity="0.9"/>
<rect x="776.97" y="734.3" width="4.3" height="73.9" fill="#089981"/>
<rect x="783.68" y="639.9" width="1.25" height="102.5" fill="#089981" opacity="0.9"/>
<rect x="782.15" y="681.0" width="4.3" height="53.3" fill="#089981"/>
<rect x="788.87" y="541.0" width="1.25" height="165.2" fill="#089981" opacity="0.9"/>
<rect x="787.34" y="576.7" width="4.3" height="104.3" fill="#089981"/>
<rect x="794.05" y="569.8" width="1.25" height="80.2" fill="#f23645" opacity="0.9"/>
<rect x="792.52" y="576.7" width="4.3" height="51.7" fill="#f23645"/>
<rect x="799.24" y="623.3" width="1.25" height="77.8" fill="#f23645" opacity="0.9"/>
<rect x="797.71" y="628.4" width="4.3" height="52.1" fill="#f23645"/>
<rect x="804.42" y="614.4" width="1.25" height="102.5" fill="#089981" opacity="0.9"/>
<rect x="802.89" y="675.1" width="4.3" height="5.9" fill="#089981"/>
<rect x="809.60" y="655.8" width="1.25" height="78.0" fill="#f23645" opacity="0.9"/>
<rect x="808.07" y="673.9" width="4.3" height="55.3" fill="#f23645"/>
<rect x="814.79" y="687.1" width="1.25" height="89.2" fill="#f23645" opacity="0.9"/>
<rect x="813.26" y="729.2" width="4.3" height="9.7" fill="#f23645"/>
<rect x="819.97" y="669.3" width="1.25" height="72.6" fill="#089981" opacity="0.9"/>
<rect x="818.44" y="687.1" width="4.3" height="51.8" fill="#089981"/>
<rect x="825.16" y="683.3" width="1.25" height="90.5" fill="#f23645" opacity="0.9"/>
<rect x="823.63" y="687.1" width="4.3" height="64.5" fill="#f23645"/>
<rect x="830.34" y="714.4" width="1.25" height="58.6" fill="#089981" opacity="0.9"/>
<rect x="828.81" y="741.4" width="4.3" height="10.2" fill="#089981"/>
<rect x="835.52" y="584.9" width="1.25" height="200.0" fill="#089981" opacity="0.9"/>
<rect x="833.99" y="621.7" width="4.3" height="119.3" fill="#089981"/>
<rect x="840.71" y="567.4" width="1.25" height="96.2" fill="#089981" opacity="0.9"/>
<rect x="839.18" y="620.2" width="4.3" height="1.5" fill="#089981"/>
<rect x="845.89" y="606.7" width="1.25" height="49.9" fill="#f23645" opacity="0.9"/>
<rect x="844.36" y="620.9" width="4.3" height="25.6" fill="#f23645"/>
<rect x="851.08" y="634.1" width="1.25" height="67.4" fill="#f23645" opacity="0.9"/>
<rect x="849.55" y="647.4" width="4.3" height="41.3" fill="#f23645"/>
<rect x="856.26" y="676.9" width="1.25" height="48.5" fill="#f23645" opacity="0.9"/>
<rect x="854.73" y="688.4" width="4.3" height="22.4" fill="#f23645"/>
<rect x="861.44" y="698.1" width="1.25" height="65.5" fill="#f23645" opacity="0.9"/>
<rect x="859.91" y="710.8" width="4.3" height="27.3" fill="#f23645"/>
<rect x="866.63" y="694.8" width="1.25" height="82.8" fill="#089981" opacity="0.9"/>
<rect x="865.10" y="708.8" width="4.3" height="29.3" fill="#089981"/>
<rect x="871.81" y="654.0" width="1.25" height="82.8" fill="#f23645" opacity="0.9"/>
<rect x="870.28" y="708.8" width="4.3" height="5.1" fill="#f23645"/>
<rect x="877.00" y="699.1" width="1.25" height="49.2" fill="#f23645" opacity="0.9"/>
<rect x="875.47" y="713.9" width="4.3" height="4.6" fill="#f23645"/>
<rect x="882.18" y="695.2" width="1.25" height="60.0" fill="#f23645" opacity="0.9"/>
<rect x="880.65" y="718.2" width="4.3" height="19.1" fill="#f23645"/>
<rect x="887.36" y="678.3" width="1.25" height="76.9" fill="#089981" opacity="0.9"/>
<rect x="885.83" y="683.6" width="4.3" height="53.6" fill="#089981"/>
<rect x="892.55" y="561.2" width="1.25" height="135.0" fill="#089981" opacity="0.9"/>
<rect x="891.02" y="624.9" width="4.3" height="58.7" fill="#089981"/>
<rect x="897.73" y="465.7" width="1.25" height="198.7" fill="#089981" opacity="0.9"/>
<rect x="896.20" y="468.2" width="4.3" height="157.5" fill="#089981"/>
<rect x="902.92" y="440.7" width="1.25" height="119.2" fill="#f23645" opacity="0.9"/>
<rect x="901.39" y="468.2" width="4.3" height="16.6" fill="#f23645"/>
<rect x="908.10" y="462.6" width="1.25" height="120.3" fill="#f23645" opacity="0.9"/>
<rect x="906.57" y="484.8" width="4.3" height="62.4" fill="#f23645"/>
<rect x="913.28" y="534.0" width="1.25" height="50.1" fill="#f23645" opacity="0.9"/>
<rect x="911.75" y="547.2" width="4.3" height="27.5" fill="#f23645"/>
<rect x="918.47" y="545.2" width="1.25" height="55.5" fill="#f23645" opacity="0.9"/>
<rect x="916.94" y="574.7" width="4.3" height="17.1" fill="#f23645"/>
<rect x="923.65" y="495.0" width="1.25" height="104.4" fill="#089981" opacity="0.9"/>
<rect x="922.12" y="534.5" width="4.3" height="56.5" fill="#089981"/>
<rect x="928.84" y="517.9" width="1.25" height="80.3" fill="#f23645" opacity="0.9"/>
<rect x="927.31" y="534.0" width="4.3" height="48.4" fill="#f23645"/>
<rect x="934.02" y="566.3" width="1.25" height="66.2" fill="#f23645" opacity="0.9"/>
<rect x="932.49" y="582.4" width="4.3" height="13.7" fill="#f23645"/>
<rect x="939.20" y="572.7" width="1.25" height="45.3" fill="#f23645" opacity="0.9"/>
<rect x="937.67" y="596.1" width="4.3" height="17.9" fill="#f23645"/>
<rect x="944.39" y="585.9" width="1.25" height="40.8" fill="#089981" opacity="0.9"/>
<rect x="942.86" y="609.6" width="4.3" height="4.4" fill="#089981"/>
<rect x="949.57" y="602.0" width="1.25" height="40.7" fill="#089981" opacity="0.9"/>
<rect x="948.04" y="604.0" width="4.3" height="6.4" fill="#089981"/>
<rect x="954.76" y="603.2" width="1.25" height="37.8" fill="#f23645" opacity="0.9"/>
<rect x="953.23" y="604.0" width="4.3" height="29.8" fill="#f23645"/>
<rect x="959.94" y="628.7" width="1.25" height="112.5" fill="#f23645" opacity="0.9"/>
<rect x="958.41" y="635.1" width="4.3" height="94.4" fill="#f23645"/>
<rect x="965.12" y="705.4" width="1.25" height="48.0" fill="#089981" opacity="0.9"/>
<rect x="963.59" y="711.6" width="4.3" height="18.3" fill="#089981"/>
<rect x="970.31" y="692.0" width="1.25" height="43.0" fill="#f23645" opacity="0.9"/>
<rect x="968.78" y="710.8" width="4.3" height="1.7" fill="#f23645"/>
<rect x="975.49" y="682.5" width="1.25" height="31.1" fill="#089981" opacity="0.9"/>
<rect x="973.96" y="705.4" width="4.3" height="7.1" fill="#089981"/>
<rect x="980.68" y="699.0" width="1.25" height="18.8" fill="#089981" opacity="0.9"/>
<rect x="979.15" y="701.9" width="4.3" height="3.8" fill="#089981"/>
<rect x="985.86" y="687.2" width="1.25" height="24.2" fill="#089981" opacity="0.9"/>
<rect x="984.33" y="696.1" width="4.3" height="6.8" fill="#089981"/>
<rect x="991.04" y="695.5" width="1.25" height="36.5" fill="#f23645" opacity="0.9"/>
<rect x="989.51" y="696.4" width="4.3" height="30.3" fill="#f23645"/>
<rect x="996.23" y="707.6" width="1.25" height="44.0" fill="#f23645" opacity="0.9"/>
<rect x="994.70" y="727.0" width="4.3" height="16.2" fill="#f23645"/>
<rect x="1001.41" y="721.6" width="1.25" height="22.3" fill="#089981" opacity="0.9"/>
<rect x="999.88" y="727.8" width="4.3" height="15.4" fill="#089981"/>
<rect x="1006.60" y="719.1" width="1.25" height="38.6" fill="#f23645" opacity="0.9"/>
<rect x="1005.07" y="727.0" width="4.3" height="21.3" fill="#f23645"/>
<rect x="1011.78" y="713.1" width="1.25" height="51.2" fill="#089981" opacity="0.9"/>
<rect x="1010.25" y="719.3" width="4.3" height="29.0" fill="#089981"/>
<rect x="1016.96" y="692.0" width="1.25" height="40.7" fill="#f23645" opacity="0.9"/>
<rect x="1015.43" y="719.3" width="4.3" height="6.5" fill="#f23645"/>
<rect x="1022.15" y="722.2" width="1.25" height="42.1" fill="#f23645" opacity="0.9"/>
<rect x="1020.62" y="725.8" width="4.3" height="29.4" fill="#f23645"/>
<rect x="1027.33" y="720.3" width="1.25" height="52.7" fill="#089981" opacity="0.9"/>
<rect x="1025.80" y="729.3" width="4.3" height="26.6" fill="#089981"/>
<rect x="1032.52" y="715.3" width="1.25" height="97.4" fill="#f23645" opacity="0.9"/>
<rect x="1030.99" y="729.3" width="4.3" height="39.4" fill="#f23645"/>
<rect x="1037.70" y="706.6" width="1.25" height="67.9" fill="#089981" opacity="0.9"/>
<rect x="1036.17" y="743.2" width="4.3" height="25.5" fill="#089981"/>
<rect x="1042.88" y="723.6" width="1.25" height="62.9" fill="#f23645" opacity="0.9"/>
<rect x="1041.35" y="743.2" width="4.3" height="23.7" fill="#f23645"/>
<rect x="1048.07" y="711.8" width="1.25" height="58.6" fill="#089981" opacity="0.9"/>
<rect x="1046.54" y="744.5" width="4.3" height="22.4" fill="#089981"/>
<rect x="1053.25" y="688.3" width="1.25" height="57.3" fill="#089981" opacity="0.9"/>
<rect x="1051.72" y="718.6" width="4.3" height="25.8" fill="#089981"/>
<rect x="1058.44" y="661.6" width="1.25" height="68.7" fill="#089981" opacity="0.9"/>
<rect x="1056.91" y="689.0" width="4.3" height="30.2" fill="#089981"/>
<rect x="1063.62" y="672.7" width="1.25" height="45.5" fill="#f23645" opacity="0.9"/>
<rect x="1062.09" y="689.0" width="4.3" height="24.5" fill="#f23645"/>
<rect x="1068.80" y="641.5" width="1.25" height="76.1" fill="#089981" opacity="0.9"/>
<rect x="1067.27" y="683.0" width="4.3" height="30.5" fill="#089981"/>
<rect x="1073.99" y="646.9" width="1.25" height="41.4" fill="#089981" opacity="0.9"/>
<rect x="1072.46" y="653.1" width="4.3" height="30.5" fill="#089981"/>
<rect x="1079.17" y="575.4" width="1.25" height="83.5" fill="#089981" opacity="0.9"/>
<rect x="1077.64" y="644.0" width="4.3" height="9.1" fill="#089981"/>
<rect x="1084.36" y="516.8" width="1.25" height="150.9" fill="#089981" opacity="0.9"/>
<rect x="1082.83" y="546.8" width="4.3" height="98.0" fill="#089981"/>
<rect x="1089.54" y="532.8" width="1.25" height="138.9" fill="#f23645" opacity="0.9"/>
<rect x="1088.01" y="546.8" width="4.3" height="112.8" fill="#f23645"/>
<rect x="1094.72" y="635.5" width="1.25" height="41.0" fill="#089981" opacity="0.9"/>
<rect x="1093.19" y="655.2" width="4.3" height="4.4" fill="#089981"/>
<rect x="1099.91" y="639.0" width="1.25" height="36.0" fill="#f23645" opacity="0.9"/>
<rect x="1098.38" y="655.2" width="4.3" height="18.0" fill="#f23645"/>
<rect x="1105.09" y="644.4" width="1.25" height="41.6" fill="#f23645" opacity="0.9"/>
<rect x="1103.56" y="673.2" width="4.3" height="1.8" fill="#f23645"/>
<rect x="1110.28" y="667.1" width="1.25" height="22.4" fill="#f23645" opacity="0.9"/>
<rect x="1108.75" y="675.0" width="4.3" height="11.4" fill="#f23645"/>
<rect x="1115.46" y="594.0" width="1.25" height="99.3" fill="#089981" opacity="0.9"/>
<rect x="1113.93" y="665.3" width="4.3" height="21.6" fill="#089981"/>
<rect x="1120.64" y="604.1" width="1.25" height="66.3" fill="#089981" opacity="0.9"/>
<rect x="1119.11" y="646.7" width="4.3" height="18.6" fill="#089981"/>
<rect x="1125.83" y="636.0" width="1.25" height="26.7" fill="#f23645" opacity="0.9"/>
<rect x="1124.30" y="646.7" width="4.3" height="12.7" fill="#f23645"/>
<rect x="1131.01" y="655.9" width="1.25" height="40.0" fill="#f23645" opacity="0.9"/>
<rect x="1129.48" y="659.4" width="4.3" height="27.0" fill="#f23645"/>
<rect x="1136.20" y="675.5" width="1.25" height="28.8" fill="#089981" opacity="0.9"/>
<rect x="1134.67" y="679.3" width="4.3" height="7.1" fill="#089981"/>
<rect x="1141.38" y="638.0" width="1.25" height="46.9" fill="#089981" opacity="0.9"/>
<rect x="1139.85" y="651.8" width="4.3" height="27.5" fill="#089981"/>
<rect x="1146.56" y="638.0" width="1.25" height="69.8" fill="#f23645" opacity="0.9"/>
<rect x="1145.03" y="651.8" width="4.3" height="22.4" fill="#f23645"/>
<rect x="1151.75" y="656.9" width="1.25" height="39.0" fill="#f23645" opacity="0.9"/>
<rect x="1150.22" y="673.7" width="4.3" height="1.0" fill="#f23645"/>
<rect x="1156.93" y="647.5" width="1.25" height="44.0" fill="#089981" opacity="0.9"/>
<rect x="1155.40" y="658.9" width="4.3" height="15.8" fill="#089981"/>
<rect x="1162.12" y="563.5" width="1.25" height="96.6" fill="#089981" opacity="0.9"/>
<rect x="1160.59" y="593.4" width="4.3" height="66.3" fill="#089981"/>
<rect x="1167.30" y="557.0" width="1.25" height="47.2" fill="#089981" opacity="0.9"/>
<rect x="1165.77" y="585.5" width="4.3" height="7.9" fill="#089981"/>
<rect x="1172.48" y="529.0" width="1.25" height="62.0" fill="#089981" opacity="0.9"/>
<rect x="1170.95" y="573.0" width="4.3" height="13.4" fill="#089981"/>
<rect x="1177.67" y="493.3" width="1.25" height="112.7" fill="#f23645" opacity="0.9"/>
<rect x="1176.14" y="573.0" width="4.3" height="27.0" fill="#f23645"/>
<rect x="1182.85" y="585.5" width="1.25" height="61.0" fill="#f23645" opacity="0.9"/>
<rect x="1181.32" y="600.0" width="4.3" height="18.8" fill="#f23645"/>
<rect x="1188.04" y="608.0" width="1.25" height="38.0" fill="#f23645" opacity="0.9"/>
<rect x="1186.51" y="618.8" width="4.3" height="7.7" fill="#f23645"/>
<rect x="1193.22" y="613.0" width="1.25" height="27.6" fill="#089981" opacity="0.9"/>
<rect x="1191.69" y="620.4" width="4.3" height="6.1" fill="#089981"/>
<rect x="1198.40" y="612.0" width="1.25" height="29.5" fill="#f23645" opacity="0.9"/>
<rect x="1196.87" y="620.4" width="4.3" height="18.6" fill="#f23645"/>
</g>
<line x1="396.4" y1="338.2" x2="1480.5" y2="567.8" stroke="#f01f38" stroke-width="2.8" stroke-dasharray="2.8 5.94" stroke-dashoffset="-1"/>
<line x1="768.6" y1="933" x2="1480.5" y2="601.8" stroke="#f01f38" stroke-width="2.8" stroke-dasharray="2.8 5.94"/>
<line x1="14.5" y1="638.9" x2="1480.5" y2="638.9" stroke="#f23645" stroke-width="1.4" stroke-dasharray="1.5 2.7"/>
</g>
<g font-size="16.5px" fill="#0c0c0f" stroke="#0c0c0f" stroke-width="0.25">
<text x="14" y="28.8" font-size="17.5px" textLength="632" lengthAdjust="spacing">ParshwaTurakhiya28 created with TradingView.com, Mar 14, 2026 06:23 UTC</text>
<text x="26" y="68" textLength="263" lengthAdjust="spacing">XRP / U.S. Dollar · 4h · Coinbase</text>
<text x="301.5" y="68">O</text>
<text x="314" y="68" fill="#f23645" stroke="#f23645" textLength="53.5" lengthAdjust="spacing">1.4012</text>
<text x="377.5" y="68">H</text>
<text x="390" y="68" fill="#f23645" stroke="#f23645" textLength="55" lengthAdjust="spacing">1.4045</text>
<text x="458.5" y="68">L</text>
<text x="466.5" y="68" fill="#f23645" stroke="#f23645" textLength="51.5" lengthAdjust="spacing">1.3921</text>
<text x="530" y="68">C</text>
<text x="542.5" y="68" fill="#f23645" stroke="#f23645" textLength="54" lengthAdjust="spacing">1.3933</text>
<text x="609" y="68" fill="#f23645" stroke="#f23645" textLength="147" lengthAdjust="spacing">−0.0079 (−0.56%)</text>
<text x="26" y="92.75" textLength="163" lengthAdjust="spacing">EMA 20/50/100/200</text>
<text x="200" y="92.75" fill="#ff1a1a" stroke="#ff1a1a" textLength="55.5" lengthAdjust="spacing">1.3936</text>
<text x="266.5" y="92.75" fill="#ff8000" stroke="#ff8000" textLength="55" lengthAdjust="spacing">1.3862</text>
<text x="332.5" y="92.75" fill="#00f0f6" stroke="#00f0f6" textLength="51.5" lengthAdjust="spacing">1.3915</text>
<text x="395" y="92.75" fill="#0000ff" stroke="#0000ff" textLength="55" lengthAdjust="spacing">1.4437</text>
<text x="26" y="117.5" textLength="149" lengthAdjust="spacing">Supertrend (10, 3)</text>
<text x="186" y="117.5" fill="#4caf50" stroke="#4caf50" textLength="52.5" lengthAdjust="spacing">1.3541</text>
<text x="249" y="117.5" font-size="15px">∅</text>
</g>
<rect x="1481" y="39.5" width="104" height="1088" fill="#fff"/>
<g font-size="18px" fill="#0c0c0f" stroke="#0c0c0f" stroke-width="0.2">
<text x="1496" y="94.4" textLength="57.3" lengthAdjust="spacing">1.6200</text>
<text x="1496" y="143.1" textLength="57.3" lengthAdjust="spacing">1.6000</text>
<text x="1496" y="191.7" textLength="57.3" lengthAdjust="spacing">1.5800</text>
<text x="1496" y="240.3" textLength="57.3" lengthAdjust="spacing">1.5600</text>
<text x="1496" y="288.9" textLength="57.3" lengthAdjust="spacing">1.5400</text>
<text x="1496" y="337.6" textLength="57.3" lengthAdjust="spacing">1.5200</text>
<text x="1496" y="386.2" textLength="57.3" lengthAdjust="spacing">1.5000</text>
<text x="1496" y="434.8" textLength="57.3" lengthAdjust="spacing">1.4800</text>
<text x="1496" y="483.4" textLength="57.3" lengthAdjust="spacing">1.4600</text>
<text x="1496" y="532.1" textLength="57.3" lengthAdjust="spacing">1.4400</text>
<text x="1496" y="580.7" textLength="57.3" lengthAdjust="spacing">1.4200</text>
<text x="1496" y="726.6" textLength="57.3" lengthAdjust="spacing">1.3600</text>
<text x="1496" y="775.2" textLength="57.3" lengthAdjust="spacing">1.3400</text>
<text x="1496" y="823.8" textLength="57.3" lengthAdjust="spacing">1.3200</text>
<text x="1496" y="872.5" textLength="57.3" lengthAdjust="spacing">1.3000</text>
<text x="1496" y="921.1" textLength="57.3" lengthAdjust="spacing">1.2800</text>
<text x="1496" y="969.7" textLength="57.3" lengthAdjust="spacing">1.2600</text>
<text x="1496" y="1018.4" textLength="57.3" lengthAdjust="spacing">1.2400</text>
<text x="1496" y="1067.0" textLength="57.3" lengthAdjust="spacing">1.2200</text>
</g>
<rect x="1481" y="39.5" width="104" height="46" fill="#fff"/>
<rect x="1487" y="45" width="92.5" height="37.5" rx="5" fill="#fff" stroke="#ebecf0" stroke-width="1"/>
<text x="1500" y="70" textLength="36" lengthAdjust="spacing" font-size="17px">USD</text>
<rect x="1482" y="504.2" width="80" height="24.2" rx="2.5" fill="#0000ff"/>
<text x="1496" y="522.8" font-size="18px" fill="#fff" textLength="57.3" lengthAdjust="spacing">1.4437</text>
<rect x="1482" y="722.1" width="80" height="24.2" rx="2.5" fill="#4caf50"/>
<text x="1496" y="740.7" font-size="18px" fill="#fff" textLength="57.3" lengthAdjust="spacing">1.3541</text>
<rect x="1482" y="675.8" width="80" height="24.5" rx="2.5" fill="#ff7f00"/>
<text x="1496" y="694.5" font-size="18px" fill="#fff" textLength="57.3" lengthAdjust="spacing">1.3862</text>
<rect x="1482" y="651.4" width="80" height="24.4" rx="2.5" fill="#00ffff"/>
<text x="1496" y="670.1" font-size="18px" fill="#131722" textLength="57.3" lengthAdjust="spacing">1.3915</text>
<rect x="1482" y="577.9" width="80" height="24.4" rx="2.5" fill="#f23645"/>
<text x="1496" y="596.6" font-size="18px" fill="#fff" textLength="57.3" lengthAdjust="spacing">1.3952</text>
<rect x="1482" y="602.3" width="80" height="24.5" rx="2.5" fill="#ff0000"/>
<text x="1496" y="621.0" font-size="18px" fill="#fff" textLength="57.3" lengthAdjust="spacing">1.3936</text>
<rect x="1482" y="626.6" width="96" height="24.6" rx="2.5" fill="#f23645"/>
<text x="1494" y="645.4" font-size="18px" fill="#ffd0d5" textLength="75" lengthAdjust="spacing">01:36:58</text>
<rect x="1398.4" y="626.6" width="82.2" height="24.6" rx="2.5" fill="#f23645"/>
<text x="1404.5" y="645.4" font-size="18px" fill="#fff" textLength="69.5" lengthAdjust="spacing">XRPUSD</text>
<g font-size="18px" fill="#0c0c0f" stroke="#0c0c0f" stroke-width="0.2" text-anchor="middle">
<text x="105.2" y="1116">7</text>
<text x="198.5" y="1116">10</text>
<text x="291.8" y="1116">13</text>
<text x="385.1" y="1116">16</text>
<text x="478.4" y="1116">19</text>
<text x="571.8" y="1116">22</text>
<text x="665.1" y="1116">25</text>
<text x="789.5" y="1116" font-weight="bold" font-size="18px" textLength="31.5" lengthAdjust="spacingAndGlyphs">Mar</text>
<text x="882.8" y="1116">4</text>
<text x="976.1" y="1116">7</text>
<text x="1069.4" y="1116">10</text>
<text x="1162.7" y="1116">13</text>
<text x="1256.0" y="1116">16</text>
<text x="1349.4" y="1116">19</text>
<text x="1442.7" y="1116">22</text>
</g>
<rect x="14.5" y="38.5" width="1571" height="1089.5" fill="none" stroke="#eeeef1" stroke-width="1"/>
<g fill="#0a0a0c">
<path d="M17 1160.9H35V1182H26.4V1168.8H17Z"/>
<circle cx="42" cy="1164.8" r="3.6"/>
<path d="M50.9 1160.9H60.8L51.9 1182H42.6Z"/>
<text x="71" y="1182" font-size="30px" font-weight="bold" textLength="175.5" lengthAdjust="spacingAndGlyphs">TradingView</text>
</g>
</svg></body></html>
